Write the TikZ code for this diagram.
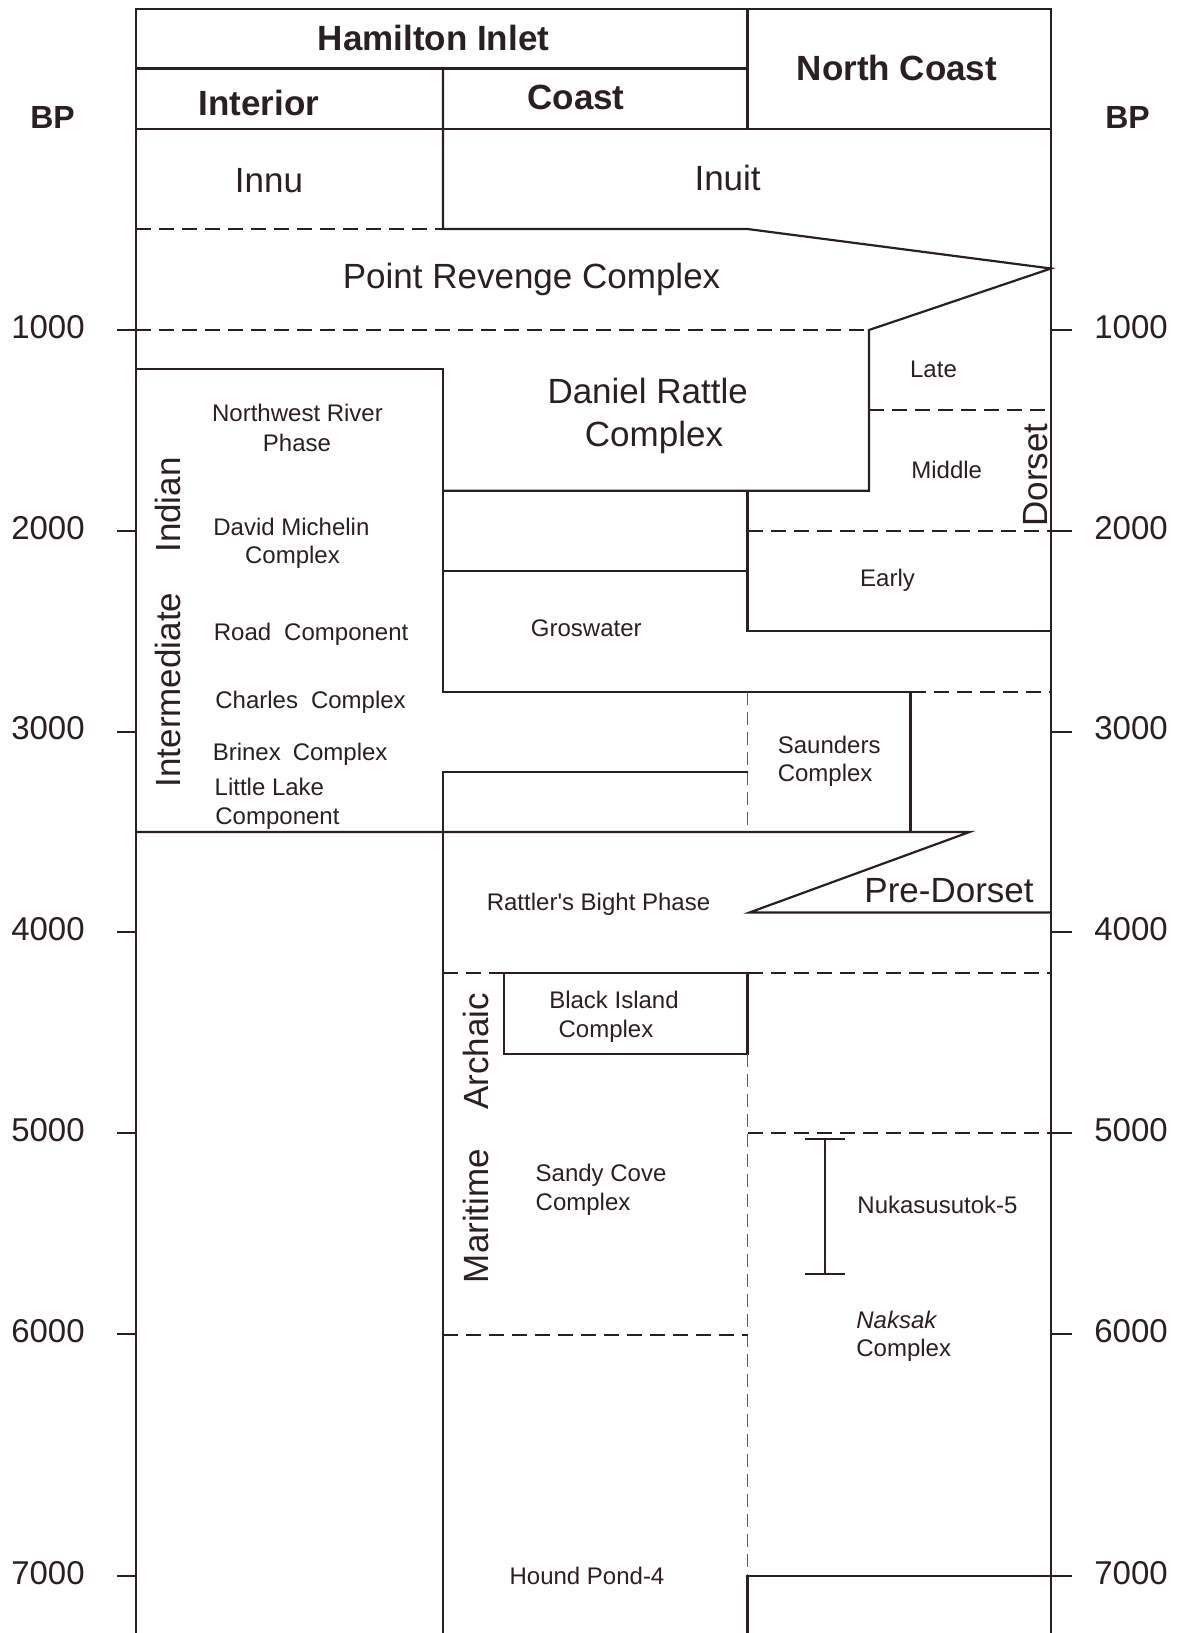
\documentclass[tikz,border=0pt]{standalone}
\usepackage{fontspec}
\setmainfont{Liberation Sans}
\definecolor{inkc}{RGB}{42,32,36}
\begin{document}
\begin{tikzpicture}[x=0.5pt,y=-0.5pt,
  lbl/.style={text=inkc, inner sep=0pt, anchor=base},
  hdr/.style={lbl, font=\fontsize{17.5}{21}\selectfont\bfseries},
  bpst/.style={lbl, font=\fontsize{16}{19}\selectfont\bfseries},
  big/.style={lbl, font=\fontsize{17.5}{21}\selectfont},
  num/.style={lbl, font=\fontsize{16.5}{20}\selectfont},
  sml/.style={lbl, font=\fontsize{12}{14}\selectfont},
  smlL/.style={sml, anchor=base west},
  ln/.style={draw=inkc, line width=1.1pt},
  dl/.style={draw=inkc, line width=1pt, dash pattern=on 7.5pt off 4pt},
  vdl/.style={draw=inkc!75, line width=0.6pt, dash pattern=on 6.5pt off 3.5pt},
  tk/.style={draw=inkc, line width=1.1pt}]
\fill[white] (0,0) rectangle (1186,1633);
\useasboundingbox (0,0) rectangle (1186,1633);

% frame and header
\draw[ln] (136,1640) -- (136,9) -- (1051,9) -- (1051,1640);
\draw[ln] (136,68.5) -- (747.5,68.5);
\draw[ln] (747.5,9) -- (747.5,129);
\draw[ln] (136,129) -- (1051,129);

% Inuit / Point Revenge / Daniel Rattle
\draw[ln] (443,68.5) -- (443,229) -- (747.5,229) -- (1051,268.5) -- (869,330) -- (869,490.7) -- (443,490.7);
\draw[dl] (136,229) -- (443,229);
\draw[dl] (136,330) -- (869,330);

% Intermediate Indian box and Groswater
\draw[ln] (136,369) -- (443,369) -- (443,691.7) -- (910.5,691.7) -- (910.5,832);
\draw[dl] (910.5,691.7) -- (1051,691.7);
\draw[dl] (869,410) -- (1051,410);
\draw[ln] (443,570.7) -- (747.5,570.7);
\draw[ln] (747.5,490.7) -- (747.5,631) -- (1051,631);
\draw[dl] (747.5,531) -- (1051,531);
\draw[vdl] (747.5,691.7) -- (747.5,832);
\draw[ln] (747.5,771.7) -- (443,771.7) -- (443,1640);

% Pre-Dorset wedge
\draw[ln] (136,832) -- (969.5,832) -- (749.5,912.5) -- (1051,912.5);

% Maritime Archaic
\draw[dl] (443,973.3) -- (503.8,973.3);
\draw[ln] (503.8,973.3) rectangle (747.5,1054);
\draw[dl] (747.5,973.3) -- (1051,973.3);
\draw[vdl] (747.5,1054) -- (747.5,1576);
\draw[dl] (747.5,1133.3) -- (1051,1133.3);
\draw[dl] (443,1335) -- (747.5,1335);
\draw[ln] (747.5,1640) -- (747.5,1576) -- (1051,1576);

% Nukasusutok-5 range bar
\draw[ln, line width=0.9pt] (825,1139) -- (825,1274) (805,1139) -- (845,1139) (805,1274) -- (845,1274);

% time scale
\foreach \yy/\tt in {330/1000, 531/2000, 731.7/3000, 932/4000, 1133.3/5000, 1334/6000, 1576/7000} {
  \draw[tk] (117,\yy) -- (136,\yy);
  \draw[tk] (1051,\yy) -- (1072,\yy);
  \node[num] (l\tt) at (48,{\yy+8}) {\tt};
  \node[num] (r\tt) at (1131,{\yy+8}) {\tt};
}
\node[bpst] (bpl) at (52.6,128) {BP};
\node[bpst] (bpr) at (1127.6,128) {BP};

% headers
\node[hdr] (hi) at (433.5,50) {Hamilton Inlet};
\node[hdr] (int) at (259,115) {Interior};
\node[hdr] (co) at (576,109.5) {Coast};
\node[hdr] (nc) at (897,80) {North Coast};

% large labels
\node[big] (innu) at (269,192) {Innu};
\node[big] (inuit) at (727.6,190) {Inuit};
\node[big] (prc) at (531.6,288) {Point Revenge Complex};
\node[big] (dr1) at (647.7,403) {Daniel Rattle};
\node[big] (dr2) at (654,446) {Complex};
\node[big, rotate=90] (dor) at (1047,475) {Dorset};
\node[big, rotate=90] (ii1) at (180,690) {Intermediate};
\node[big, rotate=90] (ii2) at (180,505) {Indian};
\node[big, rotate=90] (ma1) at (488,1216) {Maritime};
\node[big, rotate=90] (ma2) at (488,1051.5) {Archaic};
\node[big] (pd) at (949,902.7) {Pre-Dorset};

% small labels
\node[sml] (nw1) at (297.5,421.5) {Northwest River};
\node[sml] (nw2) at (297,451) {Phase};
\node[sml] (dm1) at (291.4,535) {David Michelin};
\node[sml] (dm2) at (292.5,563.5) {Complex};
\node[smlL] (rc) at (213.5,640) {Road\hspace{6.5pt}Component};
\node[smlL] (cc) at (215,708) {Charles\hspace{6.5pt}Complex};
\node[smlL] (bc) at (212.4,760) {Brinex\hspace{6pt}Complex};
\node[smlL] (ll1) at (214.3,795.5) {Little Lake};
\node[smlL] (ll2) at (215,824) {Component};
\node[sml] (late) at (933.5,377) {Late};
\node[sml] (mid) at (946.7,478) {Middle};
\node[sml] (early) at (887.5,586) {Early};
\node[sml] (gro) at (586.3,636.5) {Groswater};
\node[smlL] (sa1) at (777.4,753) {Saunders};
\node[smlL] (sa2) at (777.4,781.7) {Complex};
\node[sml] (rb) at (598.5,910) {Rattler\textquotesingle s Bight Phase};
\node[sml] (bi1) at (614,1008) {Black Island};
\node[sml] (bi2) at (606,1037) {Complex};
\node[smlL] (sc1) at (535.3,1181.5) {Sandy Cove};
\node[smlL] (sc2) at (535.3,1210) {Complex};
\node[sml] (nuk) at (937.5,1213) {Nukasusutok-5};
\node[smlL, font=\fontsize{12}{14}\selectfont\itshape] (nak1) at (856,1328) {Naksak};
\node[smlL] (nak2) at (856,1356.5) {Complex};
\node[sml] (hp) at (587,1584) {Hound Pond-4};
\end{tikzpicture}
\end{document}
